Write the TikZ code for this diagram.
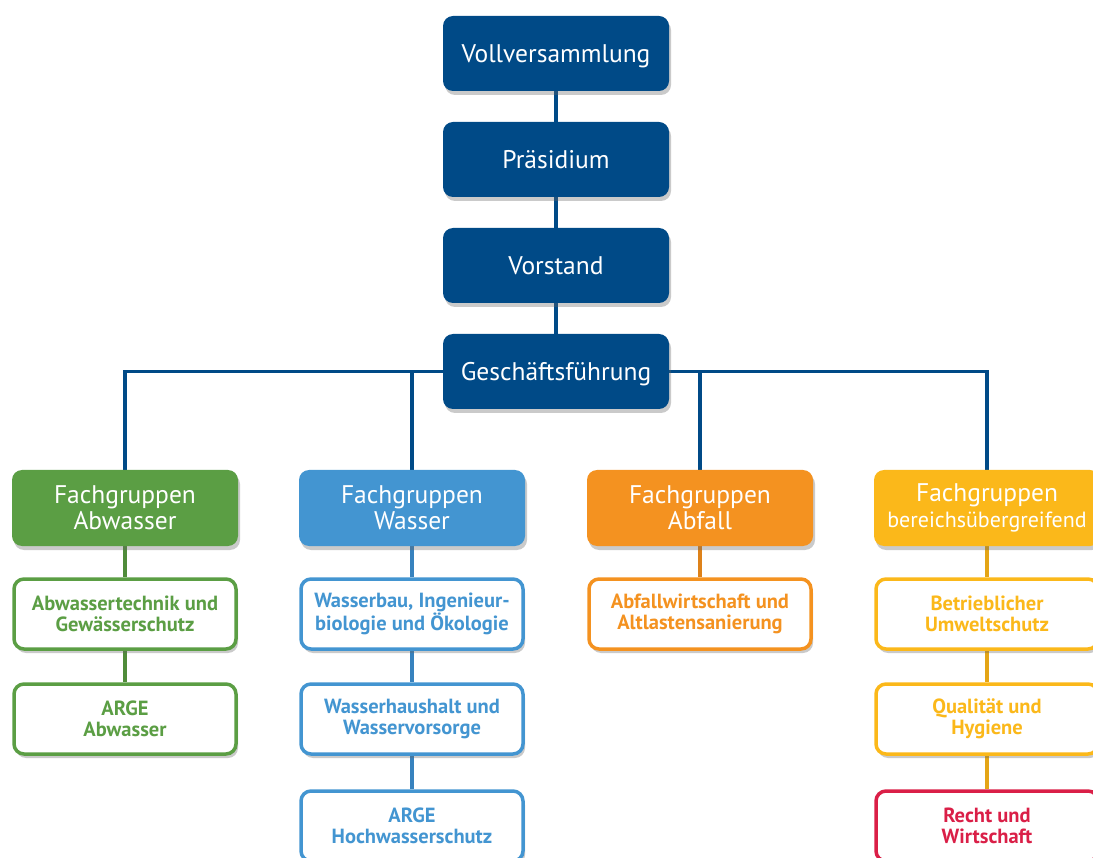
\documentclass[tikz,border=0pt]{standalone}
\usepackage{fontspec}
\setmainfont{PT Sans}
\usetikzlibrary{shadows,backgrounds}
\definecolor{navy}{RGB}{0,74,135}
\definecolor{cgreen}{RGB}{91,158,68}
\definecolor{cgreenl}{RGB}{80,140,58}
\definecolor{cblue}{RGB}{67,149,209}
\definecolor{cbluel}{RGB}{55,130,190}
\definecolor{corange}{RGB}{244,146,32}
\definecolor{corangel}{RGB}{222,130,26}
\definecolor{cyellow}{RGB}{251,184,26}
\definecolor{cyellowl}{RGB}{228,165,22}
\definecolor{cred}{RGB}{218,31,71}
\tikzset{
  shad/.style={drop shadow={shadow xshift=2pt,shadow yshift=-4pt,opacity=0.35,fill=black!60}},
  topbox/.style={shad,rounded corners=10pt,fill=navy,text=white,minimum width=226pt,minimum height=75pt,inner sep=0pt,font=\fontsize{25.5}{28}\selectfont,text height=18pt,text depth=0pt},
  grpbox/.style={shad,rounded corners=10pt,fill=#1,text=white,minimum width=226pt,minimum height=76pt,inner sep=0pt,font=\fontsize{25.5}{26}\selectfont,align=center},
  subbox/.style={shad,rounded corners=10pt,draw=#1,fill=white,line width=3.5pt,text=#1,minimum width=222pt,minimum height=70pt,inner sep=0pt,font=\bfseries\fontsize{20.5}{21}\selectfont,align=center},
  navyline/.style={navy,line width=3.5pt},
  link/.style={line width=4pt,#1},
}
\begin{document}
\begin{tikzpicture}[x=1pt,y=-1pt]
\useasboundingbox (0,0) rectangle (1093,858);
% top
\node[topbox] (vv) at (556,53.5) {Vollversammlung};
\node[topbox] (pr) at (556,159.5) {Präsidium};
\node[topbox] (vo) at (556,265.5) {Vorstand};
\node[topbox] (gf) at (556,371.5) {Geschäftsführung};
% groups
\node[grpbox=cgreen] (fab) at (125,508) {Fachgruppen\\Abwasser};
\node[grpbox=cblue] (fw) at (412,508) {Fachgruppen\\Wasser};
\node[grpbox=corange] (fa) at (700,508) {Fachgruppen\\Abfall};
\node[grpbox=cyellow] (fb) at (987,508) {Fachgruppen\\{\fontsize{22}{26}\selectfont bereichsübergreifend}};
% subs
\node[subbox=cgreen] (ab1) at (125,614) {Abwassertechnik und\\Gewässerschutz};
\node[subbox=cgreen] (ab2) at (125,719) {ARGE\\Abwasser};
\node[subbox=cblue] (w1) at (412,614) {Wasserbau, Ingenieur-\\biologie und Ökologie};
\node[subbox=cblue] (w2) at (412,719) {Wasserhaushalt und\\Wasservorsorge};
\node[subbox=cblue] (w3) at (412,826) {ARGE\\Hochwasserschutz};
\node[subbox=corange] (a1) at (700,614) {Abfallwirtschaft und\\Altlastensanierung};
\node[subbox=cyellow] (b1) at (987,614) {Betrieblicher\\Umweltschutz};
\node[subbox=cyellow] (b2) at (987,719) {Qualität und\\Hygiene};
\node[subbox=cred] (b3) at (987,826) {Recht und\\Wirtschaft};
% connectors
\begin{scope}[on background layer]
\draw[navyline] (vv) -- (pr);
\draw[navyline] (pr) -- (vo);
\draw[navyline] (vo) -- (gf);
\draw[navyline] (gf.west) -| (fab.north);
\draw[navyline] (gf.west) -| (fw.north);
\draw[navyline] (gf.east) -| (fa.north);
\draw[navyline] (gf.east) -| (fb.north);
\draw[link=cgreenl] (fab) -- (ab1);
\draw[link=cgreenl] (ab1) -- (ab2);
\draw[link=cbluel] (fw) -- (w1);
\draw[link=cbluel] (w1) -- (w2);
\draw[link=cbluel] (w2) -- (w3);
\draw[link=corangel] (fa) -- (a1);
\draw[link=cyellowl] (fb) -- (b1);
\draw[link=cyellowl] (b1) -- (b2);
\draw[link=cyellowl] (b2) -- (b3);
\end{scope}
\end{tikzpicture}
\end{document}
